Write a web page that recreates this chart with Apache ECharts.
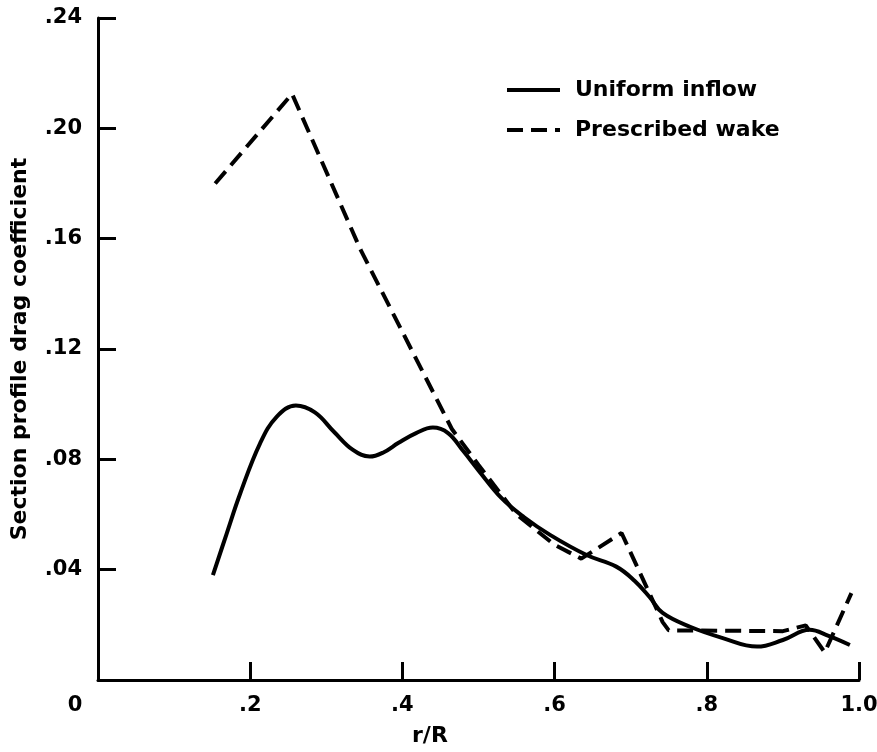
<!DOCTYPE html>
<html>
<head>
<meta charset="utf-8">
<script src="https://cdn.jsdelivr.net/npm/echarts@6/dist/echarts.min.js"></script>
<style>
html,body{margin:0;padding:0;background:#fff;}
#chart{width:877px;height:752px;}
</style>
</head>
<body>
<div id="chart"></div>
<script>
// Uniform inflow (solid, smooth)
const uniformX = [0.151, 0.169, 0.187, 0.213, 0.235, 0.26, 0.285, 0.31, 0.335, 0.357, 0.375, 0.395, 0.418, 0.44, 0.46, 0.48, 0.50, 0.53, 0.56, 0.594, 0.642, 0.681, 0.705, 0.725, 0.742, 0.778, 0.821, 0.866, 0.90, 0.935, 0.96, 0.988];
const uniformY = [0.038, 0.053, 0.0677, 0.0858, 0.0955, 0.0995, 0.097, 0.090, 0.0834, 0.081, 0.0825, 0.086, 0.0895, 0.0915, 0.0895, 0.083, 0.076, 0.066, 0.059, 0.0526, 0.0453, 0.0411, 0.036, 0.030, 0.0243, 0.0193, 0.0152, 0.0121, 0.0145, 0.0182, 0.016, 0.0127];
// Prescribed wake (dashed, straight segments)
const wakeX = [0.154, 0.255, 0.345, 0.465, 0.50, 0.55, 0.60, 0.635, 0.688, 0.742, 0.75, 0.90, 0.93, 0.955, 0.99];
const wakeY = [0.180, 0.2125, 0.156, 0.091, 0.078, 0.060, 0.049, 0.044, 0.0533, 0.021, 0.018, 0.0177, 0.0198, 0.010, 0.0315];
const xTicks = ['0', '.2', '.4', '.6', '.8', '1.0'];
const yTicks = ['0', '.04', '.08', '.12', '.16', '.20', '.24'];

const FONT = 'DejaVu Sans';
const chart = echarts.init(document.getElementById('chart'), null, {renderer: 'canvas'});
const pairs = (xs, ys) => xs.map((x, i) => [x, ys[i]]);

chart.setOption({
  backgroundColor: '#fff',
  animation: false,
  grid: {left: 98, right: 18, top: 18, bottom: 72, containLabel: false, outerBoundsMode: 'none'},
  legend: {
    orient: 'vertical',
    left: 500,
    top: 74,
    itemWidth: 53,
    itemHeight: 14,
    itemGap: 18,
    itemStyle: {opacity: 0},
    lineStyle: {width: 4},
    textStyle: {fontFamily: FONT, fontWeight: 'bold', fontSize: 22, color: '#000', padding: [0, 0, 0, 10]},
    data: ['Uniform inflow', 'Prescribed wake']
  },
  xAxis: {
    type: 'value', min: 0, max: 1, interval: 0.2,
    axisLine: {lineStyle: {color: '#000', width: 3}},
    axisTick: {inside: true, length: 18, lineStyle: {color: '#000', width: 3}},
    splitLine: {show: false},
    axisLabel: {
      margin: 15, color: '#000', fontFamily: FONT, fontWeight: 'bold', fontSize: 21,
      formatter: v => {
        const i = Math.round(v / 0.2);
        return i === 0 ? '{o|' + xTicks[0] + '}' : xTicks[i];
      },
      rich: {o: {fontFamily: FONT, fontWeight: 'bold', fontSize: 21, color: '#000', padding: [0, 46, 0, 0]}}
    }
  },
  yAxis: {
    type: 'value', min: 0, max: 0.24, interval: 0.04,
    name: 'Section profile drag coefficient',
    nameLocation: 'middle', nameGap: 67,
    nameTextStyle: {fontFamily: FONT, fontWeight: 'bold', fontSize: 22, color: '#000'},
    axisLine: {lineStyle: {color: '#000', width: 3}},
    axisTick: {inside: true, length: 18, lineStyle: {color: '#000', width: 3}},
    splitLine: {show: false},
    axisLabel: {
      margin: 16, color: '#000', fontFamily: FONT, fontWeight: 'bold', fontSize: 21,
      formatter: v => {
        const i = Math.round(v / 0.04);
        return i === 0 ? '' : yTicks[i];
      }
    }
  },
  graphic: [{
    type: 'text', left: 412, top: 725,
    style: {text: 'r/R', font: 'bold 22px "DejaVu Sans"', fill: '#000'}
  }],
  series: [
    {
      name: 'Uniform inflow', type: 'line', smooth: 0.4, symbol: 'none',
      itemStyle: {color: '#000'},
      lineStyle: {color: '#000', width: 4},
      data: pairs(uniformX, uniformY)
    },
    {
      name: 'Prescribed wake', type: 'line', smooth: false, symbol: 'none',
      itemStyle: {color: '#000'},
      lineStyle: {color: '#000', width: 4, type: [16, 8]},
      data: pairs(wakeX, wakeY)
    }
  ]
});
</script>
</body>
</html>
